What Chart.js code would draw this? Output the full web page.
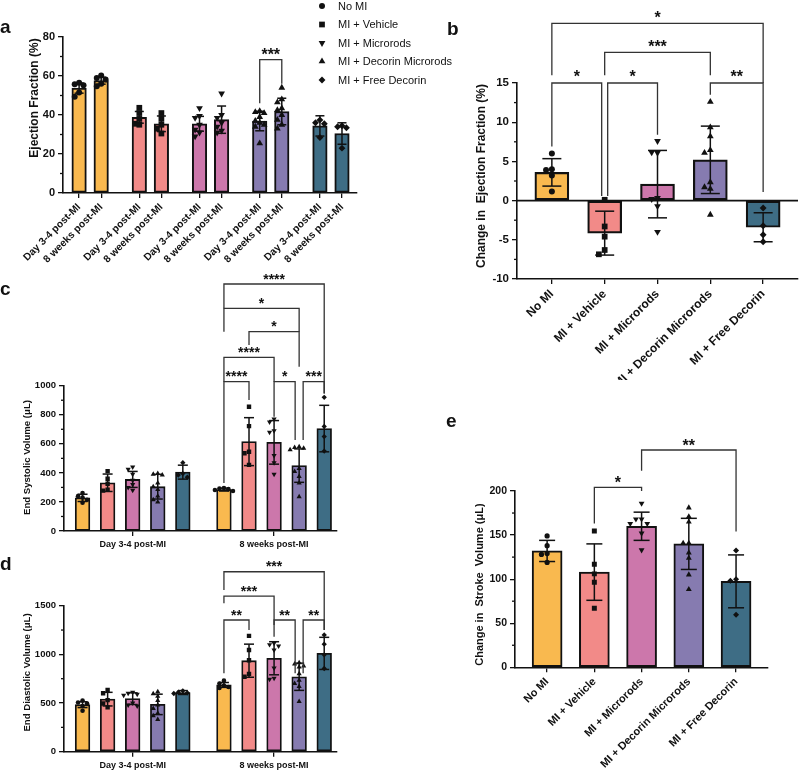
<!DOCTYPE html>
<html><head><meta charset="utf-8">
<script src="https://cdn.jsdelivr.net/npm/chart.js@4.4.1/dist/chart.umd.min.js"></script>
<style>
html,body{margin:0;padding:0;background:#fff;}
body{width:800px;height:771px;position:relative;overflow:hidden;}
canvas{position:absolute;}
</style></head><body>
<canvas id="pa" width="470" height="265" style="left:0;top:0"></canvas>
<canvas id="pc" width="440" height="292" style="left:0;top:262px"></canvas>
<canvas id="pd" width="440" height="226" style="left:0;top:545px"></canvas>
<canvas id="pb" width="360" height="380" style="left:440px;top:0"></canvas>
<canvas id="pe" width="360" height="391" style="left:440px;top:380px"></canvas>
<script>
// ---------- categories ----------
const groups = ['No MI', 'MI + Vehicle', 'MI + Microrods', 'MI + Decorin Microrods', 'MI + Free Decorin'];
const timepoints = ['Day 3-4 post-MI', '8 weeks post-MI'];
const groupColors = ['#F9B94F', '#F28A88', '#CC77AB', '#867BB0', '#3E6D85'];
const groupMarkers = ['circle', 'rect', 'triangle', 'triangle', 'rectRot'];
const markerRotation = [0, 0, 180, 0, 0];
const markerScale = [1, 1.35, 1.3, 1.3, 1.15];

// ---------- panel a : Ejection Fraction (%) ----------
const efMeanDay = [53.8, 38.8, 35.5, 36.9, 34.4];
const efMeanWk8 = [57.6, 35.5, 37.6, 41.8, 30.5];
const efSdDay = [2.6, 3.0, 3.8, 5.0, 5.2];
const efSdWk8 = [1.8, 4.0, 7.0, 6.8, 5.5];
const efPointsDay = [
  [56.5, 55.8, 55.2, 51.5, 49.3],
  [43.7, 41.0, 38.0, 35.5, 35.0],
  [43.5, 39.5, 38.5, 35.0, 32.5, 31.0, 29.0],
  [42.0, 41.5, 41.0, 39.0, 37.0, 36.0, 35.0, 34.0, 25.5],
  [37.5, 36.0, 35.5, 28.5]];
const efPointsWk8 = [
  [60.3, 59.0, 58.2, 56.0, 54.8],
  [41.0, 38.0, 35.0, 33.0, 30.5],
  [51.0, 40.0, 38.5, 36.0, 34.0, 32.0, 31.0],
  [54.0, 48.0, 46.5, 43.5, 42.5, 40.0, 37.5, 35.0, 33.0],
  [34.5, 34.0, 33.5, 23.0]];
const efTicks = [0, 80, 20, 10]; // min, max, major, minor
const sigA = [[6, 7, 68.4, 46, 56, '***']];

// ---------- panel b : Change in Ejection Fraction (%) ----------
const dEfMean = [3.6, -4.15, 2.1, 5.2, -3.4];
const dEfSd = [1.75, 2.8, 4.3, 4.3, 1.85];
const dEfPoints = [
  [6.0, 4.0, 3.9, 3.2, 1.15],
  [0.1, -3.3, -4.6, -6.3, -6.85],
  [7.6, 6.1, 6.15, 0.35, 0.2, -0.7, -4.0],
  [12.6, 9.35, 8.2, 6.45, 6.1, 2.35, 1.7, 1.5, -1.8],
  [-0.95, -3.2, -4.35, -5.25]];
const dEfTicks = [-10, 15, 5, 2.5];
const sigB = [[0, 4, 22.6, 16, 15, '*'], [1, 3, 18.9, 16, 16, '***'], [0, 1, 15, 6.9, 0.6, '*', 0, -3],
              [1, 2, 15, 0.6, 8.4, '*', 3, 0], [3, 4, 15, 13.5, 1.1, '**']];

// ---------- panel c : End Systolic Volume (uL) ----------
const esvMeanDay = [228, 332, 355, 305, 405];
const esvMeanWk8 = [285, 615, 610, 450, 705];
const esvSdDay = [25, 60, 55, 85, 48];
const esvSdWk8 = [10, 165, 150, 115, 160];
const esvPointsDay = [
  [262, 240, 230, 215, 195],
  [412, 360, 325, 285, 278],
  [440, 425, 390, 350, 320, 300, 280],
  [395, 390, 385, 330, 305, 285, 240, 215, 200],
  [470, 395, 385, 370]];
const esvPointsWk8 = [
  [296, 292, 288, 282, 275],
  [855, 722, 545, 535, 455],
  [770, 750, 690, 680, 520, 470, 390],
  [580, 575, 570, 560, 430, 410, 375, 330, 235],
  [920, 720, 650, 550]];
const esvTicks = [0, 1000, 200, 100];
const sigC = [[5, 9, 1700, 1532, 947, '****'], [5, 8, 1532, 1372, 1372, '*'], [6, 8, 1372, 1280, 1130, '*'],
              [5, 7, 1195, 1028, 1028, '****'], [5, 6, 1028, 330, 901, '****'],
              [7, 8, 1028, 787, 626, '*', 0, -4], [8, 9, 1028, 626, 947, '***', 4, 0]];

// ---------- panel d : End Diastolic Volume (uL) ----------
const edvMeanDay = [483, 540, 545, 486, 608];
const edvMeanWk8 = [686, 935, 960, 770, 1010];
const edvSdDay = [30, 70, 60, 105, 20];
const edvSdWk8 = [25, 170, 170, 140, 165];
const edvPointsDay = [
  [525, 505, 495, 470, 420],
  [635, 600, 530, 495, 455],
  [610, 600, 590, 580, 500, 480, 470],
  [615, 595, 570, 525, 480, 445, 395, 370, 330],
  [625, 612, 605, 598]];
const edvPointsWk8 = [
  [730, 700, 680, 665, 655],
  [1190, 1045, 940, 800, 770],
  [1115, 1100, 1085, 1045, 860, 755, 745],
  [915, 900, 880, 870, 800, 735, 700, 670, 515],
  [1200, 1105, 995, 855]];
const edvTicks = [0, 1500, 500, 250];
const sigD = [[5, 9, 1849, 1661, 1250, '***'], [5, 7, 1599, 1524, 1301, '***'], [5, 6, 1353, 805, 1250, '**'],
              [7, 8, 1353, 1182, 805, '**', 0, -4], [8, 9, 1353, 805, 1250, '**', 4, 0]];

// ---------- panel e : Change in Stroke Volume (uL) ----------
const svMean = [132, 108, 160, 140, 97.5];
const svSd = [12, 32, 16, 29, 30];
const svPoints = [
  [149, 138, 129, 128, 119],
  [154.6, 117, 106, 96.4, 67],
  [186, 168, 168, 163, 163, 152, 133],
  [181, 171, 165, 141, 141, 130, 124, 105, 88.5],
  [132.5, 100, 98.3, 59.5]];
const svTicks = [0, 200, 50, 25];
const sigE = [[1, 2, 204, 163, 200, '*'], [2, 4, 246.5, 223, 154, '**']];

// ---------- helpers ----------
const FONT = '"Liberation Sans", Arial, Helvetica, sans-serif';
Chart.defaults.font.family = FONT;
Chart.defaults.color = '#111';

function swarm(vals, tol, step) {
  const placed = [];
  const cands = [0, -1, 1, -2, 2];
  return vals.map(v => {
    for (const c of cands) {
      if (!placed.some(p => p.c === c && Math.abs(p.v - v) < tol)) { placed.push({c, v}); return c * step; }
    }
    placed.push({c: 0, v}); return 0;
  });
}

function drawMarker(ctx, style, rot, x, y, r) {
  ctx.beginPath();
  if (style === 'circle') ctx.arc(x, y, r, 0, 2 * Math.PI);
  else if (style === 'rect') { const s = r * Math.SQRT1_2; ctx.rect(x - s, y - s, 2 * s, 2 * s); }
  else if (style === 'triangle') {
    let a = rot * Math.PI / 180;
    for (let k = 0; k < 3; k++) { const px = x + Math.sin(a) * r, py = y - Math.cos(a) * r; if (k) ctx.lineTo(px, py); else ctx.moveTo(px, py); a += 2 * Math.PI / 3; }
    ctx.closePath();
  } else { ctx.moveTo(x, y - r); ctx.lineTo(x + r, y); ctx.lineTo(x, y + r); ctx.lineTo(x - r, y); ctx.closePath(); }
  ctx.fill();
}

const decorById = {};
const decorPlugin = {
  id: 'decor',
  afterDraw(chart) {
    const P = decorById[chart.canvas.id]; if (!P) return;
    const ctx = chart.ctx, xs = chart.scales.x, ys = chart.scales.y, ca = chart.chartArea;
    ctx.save();
    ctx.strokeStyle = '#111'; ctx.fillStyle = '#111';
    const line = (x1, y1, x2, y2, w) => { ctx.lineWidth = w; ctx.beginPath(); ctx.moveTo(x1, y1); ctx.lineTo(x2, y2); ctx.stroke(); };
    if (P.zeroLine) { const y = ys.getPixelForValue(0); line(ca.left, y, ca.right, y, 1.6); }
    const [ymin, ymax, ystep, yminor] = P.yt;
    for (let v = ymin + yminor; v < ymax; v += yminor) {
      const k = (v - ymin) / ystep; if (Math.abs(k - Math.round(k)) < 1e-6) continue;
      const y = ys.getPixelForValue(v); line(ca.left - 3, y, ca.left, y, 1.3);
    }
    P.bars.forEach(b => {
      const x = xs.getPixelForValue(b.pos);
      const yt = ys.getPixelForValue(b.mean + b.sd), yb = ys.getPixelForValue(b.mean - b.sd);
      line(x, yt, x, yb, 1.5); line(x - P.cap, yt, x + P.cap, yt, 1.5); line(x - P.cap, yb, x + P.cap, yb, 1.5);
    });
    ctx.font = 'bold ' + P.sigFont + 'px ' + FONT; ctx.textAlign = 'center'; ctx.textBaseline = 'alphabetic';
    P.sig.forEach(s => {
      const [ia, ib, top, ya, yb, label, d1 = 0, d2 = 0] = s;
      const x1 = xs.getPixelForValue(P.bars[ia].pos) + d1, x2 = xs.getPixelForValue(P.bars[ib].pos) + d2;
      const yt = ys.getPixelForValue(top);
      ctx.strokeStyle = '#333'; ctx.lineWidth = 1.3;
      ctx.beginPath(); ctx.moveTo(x1, ys.getPixelForValue(ya)); ctx.lineTo(x1, yt); ctx.lineTo(x2, yt); ctx.lineTo(x2, ys.getPixelForValue(yb)); ctx.stroke();
      ctx.fillText(label, (x1 + x2) / 2, yt - P.sigGap + 0.57 * P.sigFont);
    });
    ctx.save();
    ctx.translate(P.title.x, P.title.y); ctx.rotate(-Math.PI / 2);
    ctx.font = 'bold ' + P.title.size + 'px ' + FONT; ctx.textAlign = 'center'; ctx.textBaseline = 'middle';
    ctx.fillText(P.title.text, 0, 0);
    ctx.restore();
    ctx.font = 'bold 19px ' + FONT; ctx.textAlign = 'left'; ctx.textBaseline = 'alphabetic';
    ctx.fillText(P.letter.text, P.letter.x, P.letter.y);
    if (P.legend) {
      const L = P.legend;
      ctx.font = L.size + 'px ' + FONT; ctx.textBaseline = 'middle';
      groups.forEach((g, i) => {
        drawMarker(ctx, groupMarkers[i], markerRotation[i], L.x, L.ys[i], L.r * markerScale[i]);
        ctx.fillText(g, L.tx, L.ys[i] + 0.5);
      });
    }
    ctx.restore();
  }
};

function makePanel(id, P) {
  decorById[id] = P;
  const datasets = [{
    type: 'bar', order: 2,
    data: P.bars.map(b => ({x: b.pos, y: b.mean})),
    backgroundColor: P.bars.map(b => groupColors[b.g]),
    borderColor: '#111', borderWidth: P.barBorder, borderSkipped: false, barThickness: P.barW
  }];
  P.bars.forEach(b => {
    const off = swarm(b.pts, P.tolY, P.stepX);
    const r = P.r * markerScale[b.g];
    datasets.push({
      type: 'scatter', order: 1, showLine: false,
      data: b.pts.map((v, i) => ({x: b.pos + off[i], y: v})),
      pointStyle: groupMarkers[b.g], pointRotation: markerRotation[b.g],
      pointRadius: r, pointHoverRadius: r, pointBackgroundColor: '#111', pointBorderWidth: 0
    });
  });
  const [ymin, ymax, ystep] = P.yt;
  new Chart(document.getElementById(id), {
    type: 'scatter',
    data: {datasets},
    options: {
      responsive: false, animation: false, devicePixelRatio: 1, events: [],
      layout: {autoPadding: false, padding: {top: P.padTop, right: P.padRight, left: 0, bottom: 0}},
      plugins: {legend: {display: false}, tooltip: {enabled: false}},
      scales: {
        x: {
          type: 'linear', min: P.xMin, max: P.xMax, bounds: 'data', offset: false,
          grid: {drawOnChartArea: false, offset: false, color: '#111', tickColor: '#111', lineWidth: 1.3, tickLength: 5},
          border: {color: '#111', width: 1.6},
          afterBuildTicks: s => { s.ticks = P.tickPos.map(v => ({value: v})); },
          afterFit: s => { s.height = P.xH; },
          ticks: {autoSkip: false, minRotation: P.rot, maxRotation: P.rot, padding: 3, color: '#111',
                  font: {size: P.xFont, weight: 'bold'}, callback: (v, i) => P.tickLabels[i]}
        },
        y: {
          type: 'linear', min: ymin, max: ymax,
          grid: {drawOnChartArea: false, color: '#111', tickColor: '#111', lineWidth: 1.3, tickLength: 5},
          border: {color: '#111', width: 1.6},
          afterFit: s => { s.width = P.yW; },
          ticks: {stepSize: ystep, padding: 3, color: '#111', font: {size: P.yFont, weight: 'bold'}, callback: v => String(v)}
        }
      }
    },
    plugins: [decorPlugin]
  });
}

// ---------- build bar lists ----------
const gapA = 60 / 22;
const barsA = [];
groups.forEach((g, gi) => {
  barsA.push({g: gi, pos: gi * gapA, mean: efMeanDay[gi], sd: efSdDay[gi], pts: efPointsDay[gi]});
  barsA.push({g: gi, pos: gi * gapA + 1, mean: efMeanWk8[gi], sd: efSdWk8[gi], pts: efPointsWk8[gi]});
});
const gapC = 141 / 25;
function timeBars(mDay, mWk, sDay, sWk, pDay, pWk) {
  const out = [];
  groups.forEach((g, gi) => out.push({g: gi, pos: gi, mean: mDay[gi], sd: sDay[gi], pts: pDay[gi]}));
  groups.forEach((g, gi) => out.push({g: gi, pos: gapC + gi, mean: mWk[gi], sd: sWk[gi], pts: pWk[gi]}));
  return out;
}
const barsC = timeBars(esvMeanDay, esvMeanWk8, esvSdDay, esvSdWk8, esvPointsDay, esvPointsWk8);
const barsD = timeBars(edvMeanDay, edvMeanWk8, edvSdDay, edvSdWk8, edvPointsDay, edvPointsWk8);
const barsB = groups.map((g, gi) => ({g: gi, pos: gi, mean: dEfMean[gi], sd: dEfSd[gi], pts: dEfPoints[gi]}));
const barsE = groups.map((g, gi) => ({g: gi, pos: gi, mean: svMean[gi], sd: svSd[gi], pts: svPoints[gi]}));

makePanel('pa', {
  bars: barsA, yt: efTicks, sig: sigA,
  tickPos: barsA.map(b => b.pos), tickLabels: barsA.map((b, i) => timepoints[i % 2]),
  xMin: -0.73, xMax: 4 * gapA + 1.68, rot: 45,
  yW: 63, xH: 72, padTop: 37, padRight: 113,
  barW: 14.5, barBorder: 2, cap: 4.5, r: 3, tolY: 2.6, stepX: 0.2,
  xFont: 10.3, yFont: 11, sigFont: 16, sigGap: 9,
  title: {text: 'Ejection Fraction (%)', size: 12, x: 35, y: 98},
  letter: {text: 'a', x: 0, y: 33},
  legend: {x: 322, tx: 338, ys: [6, 24.5, 43, 61.3, 80], r: 3, size: 11}
});
makePanel('pb', {
  bars: barsB, yt: dEfTicks, sig: sigB, zeroLine: true,
  tickPos: barsB.map(b => b.pos), tickLabels: groups,
  xMin: -0.66, xMax: 4.66, rot: 45,
  yW: 77, xH: 101, padTop: 83, padRight: 2,
  barW: 34, barBorder: 2.2, cap: 9.5, r: 3, tolY: 0.7, stepX: 0.11,
  xFont: 12, yFont: 11.5, sigFont: 16, sigGap: 10,
  title: {text: 'Change in  Ejection Fraction (%)', size: 12, x: 41.5, y: 176},
  letter: {text: 'b', x: 7, y: 35}
});
makePanel('pc', {
  bars: barsC, yt: esvTicks, sig: sigC,
  tickPos: [2, gapC + 2], tickLabels: timepoints,
  xMin: -0.74, xMax: gapC + 4.51, rot: 0,
  yW: 64, xH: 23, padTop: 123.7, padRight: 103,
  barW: 14.7, barBorder: 1.8, cap: 5, r: 2.3, tolY: 30, stepX: 0.18,
  xFont: 9, yFont: 9.5, sigFont: 14, sigGap: 8.3,
  title: {text: 'End Systolic Volume (\u03bcL)', size: 9.6, x: 27.5, y: 195.5},
  letter: {text: 'c', x: 0, y: 33}
});
makePanel('pd', {
  bars: barsD, yt: edvTicks, sig: sigD,
  tickPos: [2, gapC + 2], tickLabels: timepoints,
  xMin: -0.74, xMax: gapC + 4.51, rot: 0,
  yW: 64, xH: 19.3, padTop: 60.7, padRight: 103,
  barW: 14.7, barBorder: 1.8, cap: 5, r: 2.3, tolY: 45, stepX: 0.18,
  xFont: 9, yFont: 9.5, sigFont: 14, sigGap: 8.3,
  title: {text: 'End Diastolic Volume (\u03bcL)', size: 9.6, x: 27.5, y: 127.5},
  letter: {text: 'd', x: 0, y: 25}
});
makePanel('pe', {
  bars: barsE, yt: svTicks, sig: sigE,
  tickPos: barsE.map(b => b.pos), tickLabels: groups,
  xMin: -0.68, xMax: 4.67, rot: 45,
  yW: 75, xH: 103.7, padTop: 111, padRight: 32.3,
  barW: 30, barBorder: 2, cap: 8, r: 2.6, tolY: 5.5, stepX: 0.12,
  xFont: 11, yFont: 10.5, sigFont: 16, sigGap: 8.5,
  title: {text: 'Change in  Stroke  Volume (\u03bcL)', size: 11, x: 40, y: 204.6},
  letter: {text: 'e', x: 6, y: 47}
});
</script>
</body></html>
